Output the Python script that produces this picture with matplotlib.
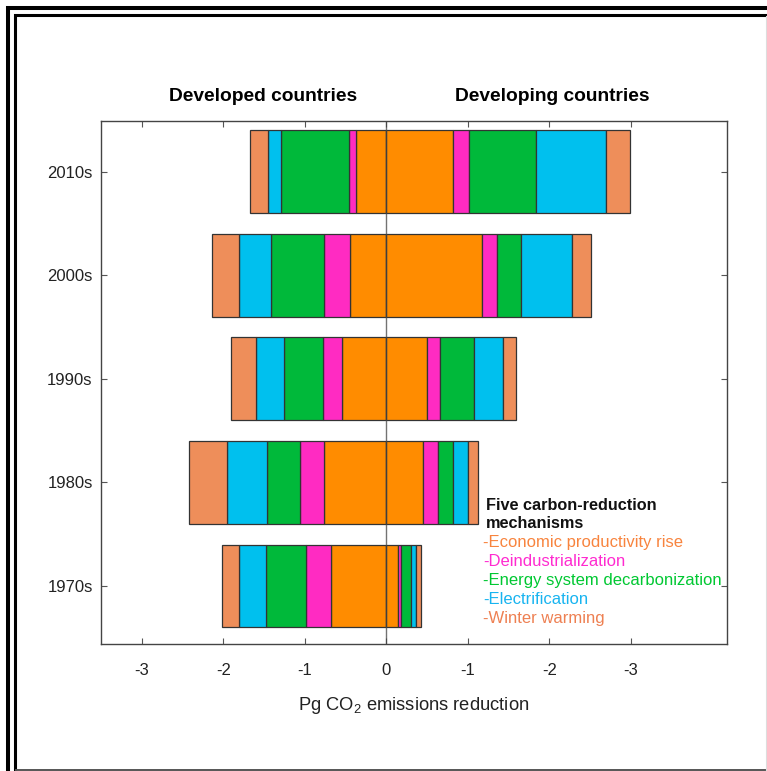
import numpy as np
import matplotlib
matplotlib.use('Agg')
import matplotlib.pyplot as plt
from matplotlib.lines import Line2D

plt.rcParams['font.family'] = ['Liberation Sans', 'DejaVu Sans']
plt.rcParams['mathtext.fontset'] = 'custom'
plt.rcParams['mathtext.rm'] = 'Liberation Sans'
plt.rcParams['mathtext.it'] = 'Liberation Sans:italic'

decades = ['1970s', '1980s', '1990s', '2000s', '2010s']
mechanisms = ['Economic productivity rise', 'Deindustrialization',
              'Energy system decarbonization', 'Electrification', 'Winter warming']

# Pg CO2 reduction per mechanism, 1970s..2010s
developed = {
    'Economic productivity rise': [0.68, 0.76, 0.54, 0.44, 0.37],
    'Deindustrialization': [0.31, 0.30, 0.24, 0.32, 0.09],
    'Energy system decarbonization': [0.48, 0.40, 0.47, 0.66, 0.83],
    'Electrification': [0.34, 0.50, 0.35, 0.39, 0.16],
    'Winter warming': [0.21, 0.46, 0.30, 0.33, 0.22],
}
developing = {
    'Economic productivity rise': [0.14, 0.45, 0.50, 1.18, 0.82],
    'Deindustrialization': [0.04, 0.18, 0.16, 0.18, 0.20],
    'Energy system decarbonization': [0.12, 0.19, 0.41, 0.29, 0.82],
    'Electrification': [0.07, 0.18, 0.36, 0.63, 0.85],
    'Winter warming': [0.06, 0.13, 0.16, 0.23, 0.30],
}

bar_colors = ['#ff8c00', '#ff2bc2', '#00b93a', '#00c0ee', '#ee8e5a']
text_colors = ['#f8843e', '#ff2bd0', '#00c832', '#18b4f0', '#ee8052']

fig = plt.figure(figsize=(7.67, 7.71), dpi=100)
ax = fig.add_axes([101 / 767, 1 - 644 / 771, 626 / 767, 523 / 771])

y = np.arange(1, len(decades) + 1)
cum_l = np.zeros(len(decades))
cum_r = np.zeros(len(decades))
for m, c in zip(mechanisms, bar_colors):
    vl = np.array(developed[m])
    vr = np.array(developing[m])
    ax.barh(y, vl, left=-(cum_l + vl), height=0.8, color=c,
            edgecolor='#333333', linewidth=0.9, zorder=2)
    ax.barh(y, vr, left=cum_r, height=0.8, color=c,
            edgecolor='#333333', linewidth=0.9, zorder=2)
    cum_l += vl
    cum_r += vr

ax.axvline(0, color='#444444', alpha=0.75, linewidth=1.0, zorder=3)

ax.set_xlim(-3.5, 4.18)
ax.set_ylim(0.44, 5.49)
ax.set_xticks([-3, -2, -1, 0, 1, 2, 3])
ax.set_xticklabels(['-3', '-2', '-1', '0', '-1', '-2', '-3'])
ax.set_yticks(y)
ax.set_yticklabels(decades)
ax.tick_params(axis='both', direction='in', length=4, width=0.8,
               color='#555555', labelsize=12, labelcolor='#222222')
ax.tick_params(axis='x', top=True, pad=14)
ax.tick_params(axis='y', right=True, pad=6)
for s in ax.spines.values():
    s.set_color('#444444')
    s.set_linewidth(1.0)

ax.set_xlabel('Pg CO$_2$ emissions reduction', fontsize=13.2,
              color='#222222', labelpad=12)

ax.text(-1.51, 1.046, 'Developed countries', transform=ax.get_xaxis_transform(),
        ha='center', va='center', fontsize=13.8, fontweight='bold')
ax.text(2.03, 1.046, 'Developing countries', transform=ax.get_xaxis_transform(),
        ha='center', va='center', fontsize=13.8, fontweight='bold')

# mechanism key drawn as text lines inside the axes
kx = (486 - 101) / 626
ax.text(kx, (644 - 505) / 523, 'Five carbon-reduction', transform=ax.transAxes,
        ha='left', va='center', fontsize=11.7, fontweight='bold', color='#111111')
ax.text(kx, (644 - 523) / 523, 'mechanisms', transform=ax.transAxes,
        ha='left', va='center', fontsize=11.7, fontweight='bold', color='#111111')
for i, (m, c) in enumerate(zip(mechanisms, text_colors)):
    ax.text(kx - 0.004, (644 - (543 + 18.8 * i)) / 523, '-' + m,
            transform=ax.transAxes, ha='left', va='center',
            fontsize=12, color=c)

# double frame around the figure
def px(xp, yp):
    return [v / 767 for v in xp], [1 - v / 771 for v in yp]

xs, ys = px([8, 8, 767], [771, 8, 8])
fig.add_artist(Line2D(xs, ys, transform=fig.transFigure, color='black',
                      linewidth=2.9, solid_joinstyle='miter'))
xs, ys = px([14.5, 14.5, 767], [771, 14.5, 14.5])
fig.add_artist(Line2D(xs, ys, transform=fig.transFigure, color='black',
                      linewidth=2.2, solid_joinstyle='miter'))
xs, ys = px([16, 767], [769.5, 769.5])
fig.add_artist(Line2D(xs, ys, transform=fig.transFigure, color='#555555',
                      linewidth=1.4))
xs, ys = px([766, 766], [16, 771])
fig.add_artist(Line2D(xs, ys, transform=fig.transFigure, color='#dddddd',
                      linewidth=0.8))

fig.savefig('out.png', dpi=100)
